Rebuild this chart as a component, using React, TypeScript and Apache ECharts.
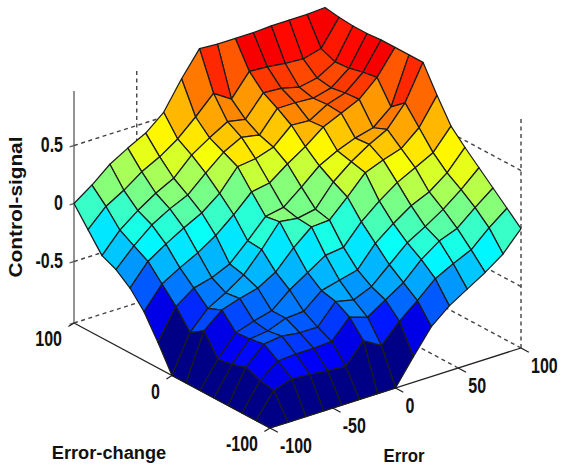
import React, { useEffect, useRef } from "react";
import * as echarts from "echarts";

// Grid nodes of the surface
const errorValues = [-100, -85.71, -71.43, -57.14, -42.86, -28.57, -14.29, 0, 14.29, 28.57, 42.86, 57.14, 71.43, 85.71, 100];
const errorChangeValues = [-100, -85.71, -71.43, -57.14, -42.86, -28.57, -14.29, 0, 14.29, 28.57, 42.86, 57.14, 71.43, 85.71, 100];

// Control-signal: one row per error-change value, one column per error value
const ecRow0 = [-1.03, -1.03, -1.03, -1.03, -1.03, -1.03, -1.03, -1.03, -0.81, -0.6, -0.47, -0.375, -0.28, -0.17, 0];
const ecRow1 = [-1.03, -0.82, -0.77, -0.78, -0.8, -0.81, -0.64, -0.73, -0.57, -0.44, -0.3, -0.22, -0.15, -0.01, 0.11];
const ecRow2 = [-1.03, -0.8, -0.68, -0.67, -0.67, -0.66, -0.5, -0.55, -0.45, -0.35, -0.2, -0.09, -0.03, 0.1, 0.22];
const ecRow3 = [-1.03, -0.75, -0.6, -0.58, -0.6, -0.6, -0.43, -0.465, -0.4, -0.26, -0.12, -0.03, 0.07, 0.19, 0.33];
const ecRow4 = [-1.03, -0.79, -0.62, -0.6, -0.54, -0.53, -0.4, -0.36, -0.32, -0.14, -0.02, 0.085, 0.155, 0.27, 0.44];
const ecRow5 = [-1.03, -0.81, -0.63, -0.58, -0.54, -0.41, -0.31, -0.21, -0.19, -0.02, 0.11, 0.22, 0.3, 0.38, 0.56];
const ecRow6 = [-1.03, -0.63, -0.5, -0.45, -0.41, -0.32, -0.16, -0.03, -0.02, 0.13, 0.29, 0.35, 0.4, 0.53, 0.76];
const ecRow7 = [-1.03, -0.71, -0.55, -0.465, -0.36, -0.19, 0, -0.02, 0.01, 0.195, 0.32, 0.42, 0.5, 0.68, 0.98];
const ecRow8 = [-0.81, -0.55, -0.44, -0.4, -0.33, -0.18, -0.02, 0.01, 0.135, 0.27, 0.35, 0.41, 0.45, 0.58, 0.98];
const ecRow9 = [-0.61, -0.42, -0.33, -0.25, -0.15, -0.02, 0.127, 0.155, 0.27, 0.37, 0.49, 0.56, 0.63, 0.77, 0.98];
const ecRow10 = [-0.47, -0.29, -0.19, -0.1, -0.02, 0.1, 0.28, 0.3, 0.35, 0.49, 0.48, 0.57, 0.62, 0.75, 0.98];
const ecRow11 = [-0.375, -0.22, -0.09, 0, 0.07, 0.21, 0.34, 0.42, 0.39, 0.57, 0.57, 0.56, 0.6, 0.72, 0.97];
const ecRow12 = [-0.32, -0.15, -0.03, 0.07, 0.15, 0.3, 0.4, 0.49, 0.46, 0.64, 0.63, 0.59, 0.62, 0.71, 0.97];
const ecRow13 = [-0.16, -0.01, 0.08, 0.19, 0.27, 0.375, 0.515, 0.67, 0.57, 0.76, 0.75, 0.73, 0.72, 0.76, 0.98];
const ecRow14 = [0, 0.11, 0.24, 0.33, 0.41, 0.54, 0.78, 0.99, 0.98, 0.98, 0.98, 0.99, 0.99, 0.99, 1];
const controlSignal = [ecRow0, ecRow1, ecRow2, ecRow3, ecRow4, ecRow5, ecRow6, ecRow7, ecRow8, ecRow9, ecRow10, ecRow11, ecRow12, ecRow13, ecRow14];

// Tick values and labels
const errorTicks = [-100, -50, 0, 50, 100];
const errorChangeTicks = [-100, 0, 100];
const controlTicks = [-0.5, 0, 0.5];
const zFloor = -1.03;
const zTop = 0.97;
const zMax = 1;

const project = (e: number, ec: number, z: number): [number, number] => [
  270 + (251 * (e + 100)) / 200 - (196 * (ec + 100)) / 200,
  428 - (80 * (e + 100)) / 200 - (105 * (ec + 100)) / 200 - 116 * (z - zFloor),
];

const jet = (z: number): string => {
  const t = (Math.floor(((z - zFloor) / (zMax - zFloor)) * 63.999) + 0.5) / 64;
  const c = (v: number) => Math.round(255 * Math.max(0, Math.min(1, v)));
  return `rgb(${c(Math.min(4 * t - 1.5, -4 * t + 4.5))},${c(Math.min(4 * t - 0.5, -4 * t + 3.5))},${c(Math.min(4 * t + 0.5, -4 * t + 2.5))})`;
};

type Cell = [number, number, number, number, number, number, number, number, number];
const cells: Cell[] = [];
for (let s = 26; s >= 0; s--) {
  for (let j = 0; j < 14; j++) {
    const i = s - j;
    if (i < 0 || i > 13) continue;
    cells.push([
      errorValues[i], errorValues[i + 1], errorChangeValues[j], errorChangeValues[j + 1],
      controlSignal[j][i], controlSignal[j][i + 1], controlSignal[j + 1][i + 1], controlSignal[j + 1][i],
      controlSignal[j][i],
    ]);
  }
}

type Seg = { a: [number, number, number]; b: [number, number, number]; kind: "solid" | "grey" | "dash" };
const segs: Seg[] = [
  // floor axes
  { a: [-100, 100, zFloor], b: [-100, -100, zFloor], kind: "solid" },
  { a: [-100, -100, zFloor], b: [100, -100, zFloor], kind: "solid" },
  // vertical axis
  { a: [-100, 100, zFloor], b: [-100, 100, zTop], kind: "grey" },
  // wall grid
  { a: [100, -100, zFloor], b: [100, -100, zTop], kind: "dash" },
  { a: [-50, 100, zTop], b: [-50, 100, zFloor], kind: "dash" },
  { a: [-100, 100, zFloor], b: [100, 100, zFloor], kind: "dash" },
  { a: [100, -100, zFloor], b: [100, 100, zFloor], kind: "dash" },
  { a: [50, -100, zFloor], b: [50, 100, zFloor], kind: "dash" },
  ...controlTicks.flatMap((z): Seg[] => [
    { a: [-100, 100, z], b: [100, 100, z], kind: "dash" },
    { a: [100, -100, z], b: [100, 100, z], kind: "dash" },
  ]),
  // ticks
  ...[...controlTicks, zFloor].map((z): Seg => ({ a: [-100, 100, z], b: [-103.5, 100, z], kind: "grey" })),
  ...errorChangeTicks.map((v): Seg => ({ a: [-100, v, zFloor], b: [-106, v - 2, zFloor], kind: "solid" })),
  ...errorTicks.map((v): Seg => ({ a: [v, -100, zFloor], b: [v, -108, zFloor], kind: "solid" })),
];

const labelFont = "'Liberation Sans', Arial, sans-serif";
const tickText = (text: string, x: number, y: number, align: "left" | "right") => ({
  type: "text",
  x,
  y,
  scaleY: 1.4,
  silent: true,
  style: { text, fill: "#111", font: `bold 16px ${labelFont}`, textAlign: align, textVerticalAlign: "middle" },
});

export default function App() {
  const ref = useRef<HTMLDivElement>(null);
  useEffect(() => {
    document.body.style.margin = "0";
    const chart = echarts.init(ref.current!, null, { renderer: "svg" });
    const graphicTexts: any[] = [
      ...errorTicks.map((v) => {
        const [x, y] = project(v, -100, zFloor);
        return tickText(String(v), x + 10, y + 17, "left");
      }),
      ...errorChangeTicks.map((v) => {
        const [x, y] = project(-100, v, zFloor);
        return tickText(String(v), x - 12, y + 15, "right");
      }),
      ...controlTicks.map((v) => {
        const [x, y] = project(-100, 100, v);
        return tickText(String(v), x - 11, y - 1.5, "right");
      }),
      { ...tickText("Error-change", 109, 452, "left"), style: { text: "Error-change", fill: "#111", font: `bold 16px ${labelFont}`, textAlign: "center", textVerticalAlign: "middle" }, scaleX: 1.14, scaleY: 1.2 },
      { ...tickText("Error", 404, 456, "left"), style: { text: "Error", fill: "#111", font: `bold 16px ${labelFont}`, textAlign: "center", textVerticalAlign: "middle" }, scaleX: 1.05, scaleY: 1.1 },
      { type: "text", x: 15, y: 207, rotation: Math.PI / 2, scaleX: 1.3, scaleY: 1.15, silent: true, style: { text: "Control-signal", fill: "#111", font: `bold 16px ${labelFont}`, textAlign: "center", textVerticalAlign: "middle" } },
    ];
    chart.setOption({
      animation: false,
      backgroundColor: "#fff",
      grid: { left: 0, right: 0, top: 0, bottom: 0 },
      xAxis: { type: "value", min: 0, max: 561, show: false },
      yAxis: { type: "value", min: 0, max: 468, inverse: true, show: false },
      graphic: graphicTexts,
      series: [
        {
          type: "custom",
          coordinateSystem: "cartesian2d",
          silent: true,
          data: segs.map((_, k) => [k]),
          z: 1,
          renderItem: (_p: any, api: any) => {
            const s = segs[api.value(0)];
            const a = api.coord(project(s.a[0], s.a[1], s.a[2]));
            const b = api.coord(project(s.b[0], s.b[1], s.b[2]));
            return {
              type: "line",
              shape: { x1: a[0], y1: a[1], x2: b[0], y2: b[1] },
              style: {
                stroke: s.kind === "grey" ? "#666" : s.kind === "dash" ? "#444" : "#222",
                lineWidth: s.kind === "solid" ? 1.3 : 1.4,
                lineDash: s.kind === "dash" ? [4, 3.5] : undefined,
              },
            };
          },
        },
        {
          type: "custom",
          coordinateSystem: "cartesian2d",
          silent: true,
          data: cells,
          z: 2,
          renderItem: (_p: any, api: any) => {
            const [e0, e1, c0, c1] = [api.value(0), api.value(1), api.value(2), api.value(3)];
            const pts = [
              project(e0, c0, api.value(4)),
              project(e1, c0, api.value(5)),
              project(e1, c1, api.value(6)),
              project(e0, c1, api.value(7)),
            ].map((p) => api.coord(p));
            return {
              type: "polygon",
              shape: { points: pts },
              style: { fill: jet(api.value(8)), stroke: "#1c1c1c", lineWidth: 1.25, lineJoin: "round" },
            };
          },
        },
      ],
    });
    return () => chart.dispose();
  }, []);
  return <div ref={ref} style={{ width: 561, height: 468 }} />;
}
